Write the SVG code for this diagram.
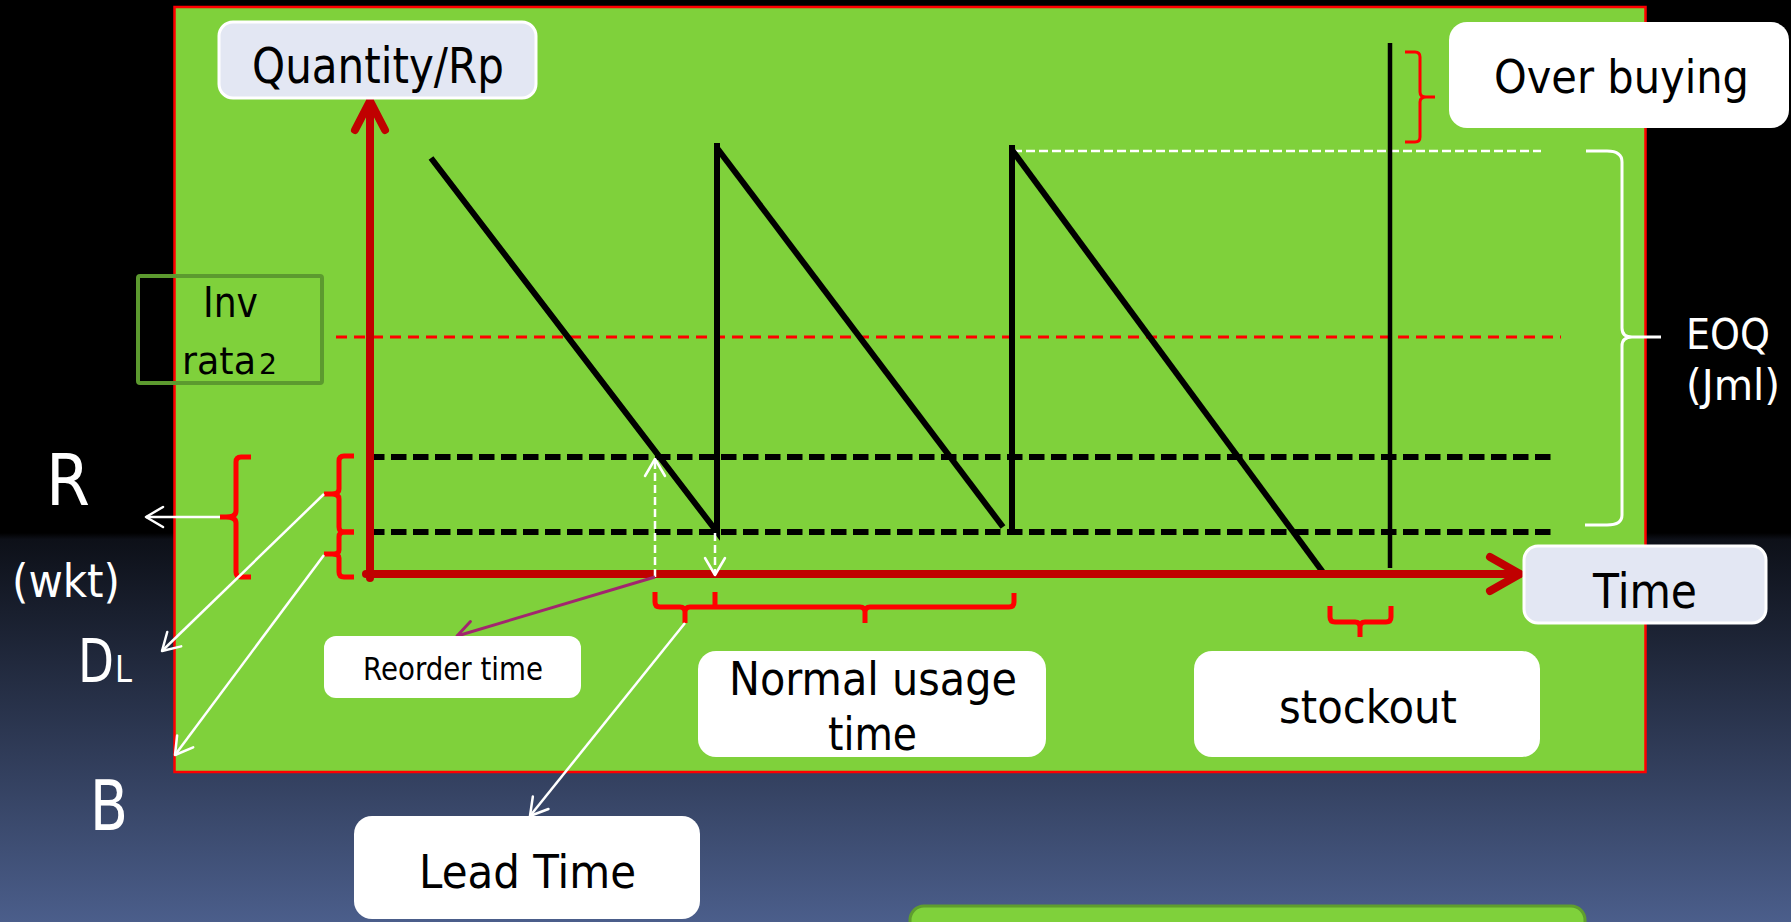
<svg xmlns="http://www.w3.org/2000/svg" width="1791" height="922" viewBox="0 0 1791 922">
<defs>
<linearGradient id="bg" x1="0" y1="0" x2="0" y2="922" gradientUnits="userSpaceOnUse">
<stop offset="0" stop-color="#000"/>
<stop offset="0.578" stop-color="#000"/>
<stop offset="0.585" stop-color="#0d1018"/>
<stop offset="1" stop-color="#4b5e8b"/>
</linearGradient>
<marker id="aw" markerUnits="userSpaceOnUse" viewBox="-20 -12 24 24" refX="0" refY="0" markerWidth="24" markerHeight="24" orient="auto" overflow="visible">
<path d="M-17,-10 L0,0 L-17,10" fill="none" stroke="#fff" stroke-width="2.5" stroke-linecap="round" stroke-linejoin="round"/>
</marker>
<marker id="ap" markerUnits="userSpaceOnUse" viewBox="-20 -12 24 24" refX="0" refY="0" markerWidth="24" markerHeight="24" orient="auto" overflow="visible">
<path d="M-17,-10 L0,0 L-17,10" fill="none" stroke="#a2256f" stroke-width="3" stroke-linecap="round" stroke-linejoin="round"/>
</marker>
<style>
text{font-family:"DejaVu Sans","Liberation Sans",sans-serif;}
.lbl{fill:#000;}
.wt{fill:#fff;}
.box{fill:#fff;}
.lav{fill:#e3e7f3;stroke:#fff;stroke-width:3;}
.saw{stroke:#000;stroke-width:6;fill:none;}
.bdash{stroke:#000;stroke-width:6;stroke-dasharray:15.5 6.5;fill:none;}
.rbr{stroke:#ff0000;fill:none;stroke-width:5;}
.wline{stroke:#fff;stroke-width:2.5;fill:none;}
.axis{stroke:#c00000;stroke-width:8;fill:none;stroke-linecap:round;stroke-linejoin:round;}
</style>
</defs>

<rect x="0" y="0" width="1791" height="922" fill="url(#bg)"/>

<g id="chart-area">
<rect x="174.5" y="7" width="1471" height="765" fill="#7fd13b" stroke="#ff0000" stroke-width="2.5"/>
</g>

<g id="bottom-box">
<rect x="910" y="906" width="675" height="60" rx="14" fill="#7fd13b" stroke="#5f9e2e" stroke-width="3"/>
</g>

<g id="guides">
<line x1="336" y1="337" x2="1561" y2="337" stroke="#ff0000" stroke-width="3" stroke-dasharray="11 7"/>
<line x1="1013" y1="151" x2="1541" y2="151" stroke="#fff" stroke-width="2.5" stroke-dasharray="9 4"/>
<line class="bdash" x1="369" y1="457" x2="1556" y2="457"/>
<line class="bdash" x1="369" y1="532" x2="1556" y2="532"/>
</g>

<g id="sawtooth">
<polyline class="saw" points="431,158 717,532 717,143"/>
<polyline class="saw" points="717,148 1003,527"/>
<line class="saw" x1="1012" y1="532" x2="1012" y2="145"/>
<line class="saw" x1="1012" y1="150" x2="1325" y2="575"/>
<line x1="1390" y1="43" x2="1390" y2="568" stroke="#000" stroke-width="4.5"/>
</g>

<g id="braces">
<path class="rbr" d="M251,457 H241 Q236,457 236,462 V511 Q236,517 226,517 H220 M226,517 Q236,517 236,523 V572 Q236,577 241,577 H251"/>
<path class="rbr" d="M354,456 H344 Q339,456 339,461 V489 Q339,494 332,494 H324 M332,494 Q339,494 339,499 V527 Q339,532 344,532 H354"/>
<path class="rbr" d="M354,532 H344 Q339,532 339,537 V550 Q339,554 332,554 H324 M332,554 Q339,554 339,558 V572 Q339,577 344,577 H354"/>
<path class="rbr" d="M655,592 V602 Q655,607 660,607 H680 Q685,607 685,612 V623 M685,612 Q685,607 690,607 H860 Q865,607 865,612 V623 M865,612 Q865,607 870,607 H1009 Q1014,607 1014,602 V593 M715,607 V592"/>
<path class="rbr" d="M1330,606 V617 Q1330,622 1335,622 H1355 Q1360,622 1360,627 V637 M1360,627 Q1360,622 1365,622 H1386 Q1391,622 1391,617 V606"/>
<path d="M1405,52 H1415 Q1420,52 1420,57 V92 Q1420,97 1426,97 H1435 M1426,97 Q1420,97 1420,102 V137 Q1420,142 1415,142 H1405" fill="none" stroke="#ff0000" stroke-width="3"/>
<path d="M1586,151 H1607 Q1622,151 1622,162 V328 Q1622,337 1632,337 H1661 M1632,337 Q1622,337 1622,346 V515 Q1622,525 1607,525 H1585" fill="none" stroke="#fff" stroke-width="3"/>
</g>

<g id="connectors">
<polyline class="axis" points="370,578 370,101"/>
<polyline class="axis" points="355,130 370,101 385,130"/>
<polyline class="axis" points="366,574 1519,574"/>
<polyline class="axis" points="1490,557 1520,574 1490,591"/>
<line x1="655" y1="577" x2="655" y2="459" stroke="#fff" stroke-width="2.5" stroke-dasharray="8 4" marker-end="url(#aw)"/>
<line x1="715" y1="533" x2="715" y2="575" stroke="#fff" stroke-width="2.5" stroke-dasharray="8 4" marker-end="url(#aw)"/>
<line x1="655" y1="577" x2="457" y2="636" stroke="#a2256f" stroke-width="3" marker-end="url(#ap)"/>
<line class="wline" x1="220" y1="517" x2="146" y2="517" marker-end="url(#aw)"/>
<line class="wline" x1="324" y1="494" x2="162" y2="651" marker-end="url(#aw)"/>
<line class="wline" x1="324" y1="555" x2="175" y2="755" marker-end="url(#aw)"/>
<line class="wline" x1="685" y1="623" x2="530" y2="816" marker-end="url(#aw)"/>
</g>

<g id="node-quantity">
<rect class="lav" x="219" y="22" width="317" height="76" rx="14"/>
<text class="lbl" x="252" y="83" font-size="49" textLength="252" lengthAdjust="spacingAndGlyphs">Quantity/Rp</text>
</g>

<g id="node-time">
<rect class="lav" x="1524" y="546" width="242" height="77" rx="14"/>
<text class="lbl" x="1593" y="608" font-size="48" textLength="104" lengthAdjust="spacingAndGlyphs">Time</text>
</g>

<g id="node-overbuying">
<rect class="box" x="1449" y="22" width="340" height="106" rx="18"/>
<text class="lbl" x="1494" y="93" font-size="47" textLength="255" lengthAdjust="spacingAndGlyphs">Over buying</text>
</g>

<g id="node-reorder">
<rect class="box" x="324" y="636" width="257" height="62" rx="12"/>
<text class="lbl" x="363" y="680" font-size="32" textLength="180" lengthAdjust="spacingAndGlyphs">Reorder time</text>
</g>

<g id="node-normal">
<rect class="box" x="698" y="651" width="348" height="106" rx="18"/>
<text class="lbl" x="729" y="695" font-size="47" textLength="288" lengthAdjust="spacingAndGlyphs">Normal usage</text>
<text class="lbl" x="828" y="750" font-size="47" textLength="89" lengthAdjust="spacingAndGlyphs">time</text>
</g>

<g id="node-stockout">
<rect class="box" x="1194" y="651" width="346" height="106" rx="18"/>
<text class="lbl" x="1279" y="723" font-size="47" textLength="178" lengthAdjust="spacingAndGlyphs">stockout</text>
</g>

<g id="node-leadtime">
<rect class="box" x="354" y="816" width="346" height="103" rx="18"/>
<text class="lbl" x="419" y="888" font-size="46" textLength="217" lengthAdjust="spacingAndGlyphs">Lead Time</text>
</g>

<g id="node-inv">
<rect x="138" y="276" width="184" height="107" rx="2" fill="none" stroke="#5c9a2f" stroke-width="4"/>
<text class="lbl" x="203" y="317" font-size="43" textLength="55" lengthAdjust="spacingAndGlyphs">Inv</text>
<text class="lbl" x="182" y="374" font-size="38" textLength="74" lengthAdjust="spacingAndGlyphs">rata</text>
<text class="lbl" x="259" y="374" font-size="29" textLength="18" lengthAdjust="spacingAndGlyphs">2</text>
</g>

<g id="node-eoq">
<text class="wt" x="1686" y="349" font-size="42" textLength="84" lengthAdjust="spacingAndGlyphs">EOQ</text>
<text class="wt" x="1686" y="400" font-size="42" textLength="94" lengthAdjust="spacingAndGlyphs">(Jml)</text>
</g>

<g id="node-r">
<text class="wt" x="46" y="505" font-size="71" textLength="44" lengthAdjust="spacingAndGlyphs">R</text>
<text class="wt" x="12" y="597" font-size="46" textLength="108" lengthAdjust="spacingAndGlyphs">(wkt)</text>
</g>

<g id="node-dl">
<text class="wt" x="78" y="682" font-size="60" textLength="36" lengthAdjust="spacingAndGlyphs">D</text>
<text class="wt" x="115" y="682" font-size="37" textLength="17" lengthAdjust="spacingAndGlyphs">L</text>
</g>

<g id="node-b">
<text class="wt" x="90" y="830" font-size="70" textLength="38" lengthAdjust="spacingAndGlyphs">B</text>
</g>
</svg>
